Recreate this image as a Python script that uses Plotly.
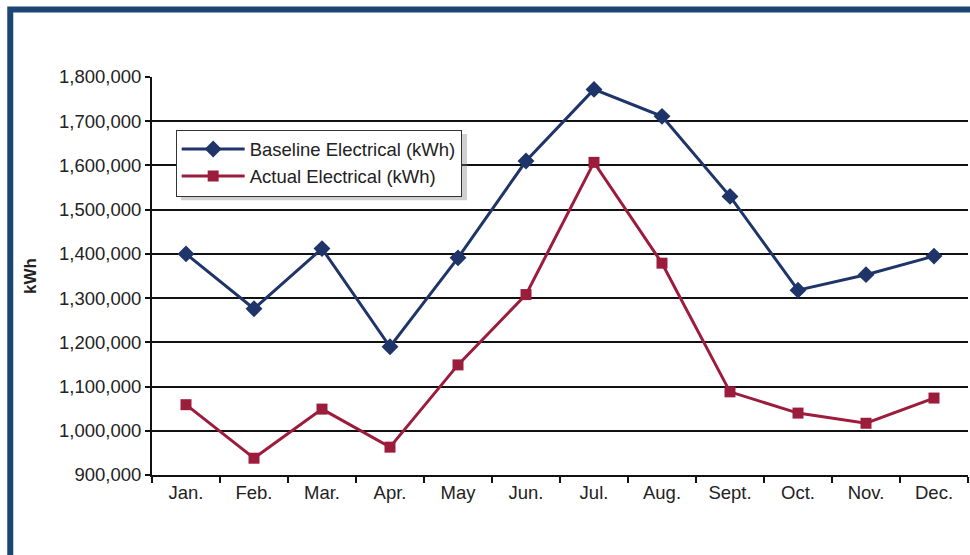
import plotly.graph_objects as go

months = ["Jan.", "Feb.", "Mar.", "Apr.", "May", "Jun.", "Jul.", "Aug.", "Sept.", "Oct.", "Nov.", "Dec."]
baseline = [1400000, 1276000, 1412000, 1190000, 1391000, 1610000, 1772000, 1711000, 1530000, 1318000, 1353000, 1395000]
actual = [1059000, 938000, 1049000, 963000, 1149000, 1308000, 1607000, 1379000, 1088000, 1040000, 1017000, 1074000]
y_ticks = [900000, 1000000, 1100000, 1200000, 1300000, 1400000, 1500000, 1600000, 1700000, 1800000]

NAVY = "#1f3468"
RED = "#9c1c3c"
FRAME = "#1b4674"
FONT = "Liberation Sans, Arial, sans-serif"
FS = 18.5

fig = go.Figure()
fig.add_trace(go.Scatter(
    x=months, y=baseline, name="Baseline Electrical (kWh)", mode="lines+markers",
    line=dict(color=NAVY, width=3),
    marker=dict(symbol="diamond", size=13, color=NAVY),
))
fig.add_trace(go.Scatter(
    x=months, y=actual, name="Actual Electrical (kWh)", mode="lines+markers",
    line=dict(color=RED, width=3),
    marker=dict(symbol="square", size=11, color=RED),
))

# plot area spans 152..968 px horizontally, 77..474.5 px vertically
fig.update_layout(
    width=970, height=555,
    margin=dict(l=152, r=2, t=77, b=80),
    paper_bgcolor="white", plot_bgcolor="white",
    font=dict(family=FONT, size=FS, color="#222222"),
    showlegend=True,
    legend=dict(
        x=0.029, y=0.868, xanchor="left", yanchor="top",
        bgcolor="white", bordercolor="#333333", borderwidth=1,
        font=dict(size=FS, color="#222222"), itemwidth=63,
        tracegroupgap=0,
    ),
    xaxis=dict(
        type="category", range=[-0.5, 11.5], showgrid=False,
        showline=True, linecolor="#111111", linewidth=2,
        ticks="outside", tickson="boundaries", ticklen=6, tickwidth=2, tickcolor="#111111",
        tickfont=dict(size=FS, color="#222222"),
    ),
    yaxis=dict(
        range=[900000, 1800000], tickvals=y_ticks, tickformat=",d",
        showgrid=True, gridcolor="#111111", gridwidth=2,
        showline=True, linecolor="#111111", linewidth=2,
        ticks="outside", ticklen=5, tickwidth=2, tickcolor="#111111",
        tickfont=dict(size=FS, color="#222222"), zeroline=False,
    ),
    annotations=[dict(
        text="<b>kWh</b>", xref="paper", yref="paper", x=-0.1495, y=0.5,
        xanchor="center", yanchor="middle", textangle=-90, showarrow=False,
        font=dict(size=17, color="#222222"),
    )],
    shapes=[
        dict(
            type="rect", xref="paper", yref="paper",
            x0=-0.1737, x1=1.3, y0=-0.6, y1=1.1697,
            line=dict(color=FRAME, width=6), fillcolor="rgba(0,0,0,0)", layer="below",
        ),
        # legend drop shadow
        dict(
            type="rect", xref="paper", yref="paper",
            x0=0.0355, x1=0.386, y0=0.6906, y1=0.857,
            line=dict(width=0), fillcolor="rgba(120,120,120,0.35)", layer="above",
        ),
    ],
)

fig.write_html(
    "out.html",
    config={"displayModeBar": False},
    post_script="document.body.style.margin='0';document.body.style.overflow='hidden';",
)
